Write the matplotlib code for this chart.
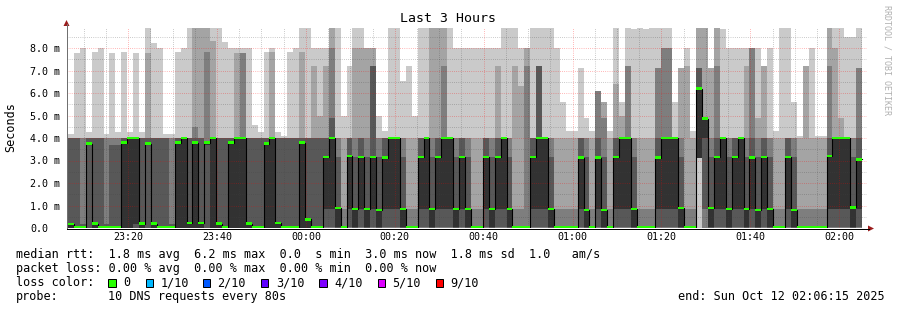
import numpy as np
import matplotlib
matplotlib.use("Agg")
import matplotlib.pyplot as plt
from matplotlib.patches import Rectangle, Polygon

# ten sorted DNS response times per 80 s step, in ms (ping6 is the median)
ping1 = [0, 0, 0, 0, 0, 0, 0, 0, 0, 0,
         0, 0, 0, 0, 0, 0, 0, 0, 0, 0,
         0, 0, 0, 0, 0, 0, 0, 0, 0, 0,
         0, 0, 0, 0, 0, 0, 0, 0, 0, 0,
         0, 0, 0, 0, 0, 0, 0, 0, 0, 0,
         0, 0, 0, 0, 0, 0, 0, 0, 0, 0,
         0, 0, 0, 0, 0, 0, 0, 0, 0, 0,
         0, 0, 0, 0, 0, 0, 0, 0, 0, 0,
         0, 0, 0, 0, 0, 0, 0, 0, 0, 0,
         0, 0, 0, 0, 0, 0, 0, 0, 0, 0,
         0, 0, 0, 0, 0, 0, 0, 0, 0, 0,
         0, 0, 0, 0, 0, 0, 0, 0, 0, 0,
         0, 0, 0, 0, 0, 0, 0, 0, 0, 0,
         0, 0, 0, 0]
ping2 = [0, 0, 0, 0, 0, 0, 0, 0, 0, 0,
         0, 0, 0, 0, 0, 0, 0, 0, 0, 0,
         0, 0, 0, 0, 0, 0, 0, 0, 0, 0,
         0, 0, 0, 0, 0, 0, 0, 0, 0, 0,
         0, 0, 0, 0, 0, 0, 0, 0, 0, 0,
         0, 0, 0, 0, 0, 0, 0, 0, 0, 0,
         0, 0, 0, 0, 0, 0, 0, 0, 0, 0,
         0, 0, 0, 0, 0, 0, 0, 0, 0, 0,
         0, 0, 0, 0, 0, 0, 0, 0, 0, 0,
         0, 0, 0, 0, 0, 0, 0, 0, 0, 0,
         0, 0, 0, 0, 0, 0, 3.1, 0, 0, 0,
         0, 0, 0, 0, 0, 0, 0, 0, 0, 0,
         0, 0, 0, 0, 0, 0, 0, 0, 0, 0,
         0, 0, 0, 0]
ping3 = [0, 0, 0, 0, 0, 0, 0, 0, 0, 0,
         0, 0, 0, 0, 0, 0, 0, 0, 0, 0,
         0, 0, 0, 0, 0, 0, 0, 0, 0, 0,
         0, 0, 0, 0, 0, 0, 0, 0, 0, 0,
         0, 0, 0, 0, 0, 0, 0, 0, 0, 0,
         0, 0, 0, 0, 0, 0, 0, 0, 0, 0,
         0, 0, 0, 0, 0, 0, 0, 0, 0, 0,
         0, 0, 0, 0, 0, 0, 0, 0, 0, 0,
         0, 0, 0, 0, 0, 0, 0, 0, 0, 0,
         0, 0, 0, 0, 0, 0, 0, 0, 0, 0,
         0, 0, 0, 0, 0, 0, 3.1, 0, 0, 0,
         0, 0, 0, 0, 0, 0, 0, 0, 0, 0,
         0, 0, 0, 0, 0, 0, 0, 0, 0, 0,
         0, 0, 0, 0]
ping4 = [0, 0, 0, 0, 0, 0, 0, 0, 0, 0,
         0, 0, 0, 0, 0, 0, 0, 0, 0, 0,
         0, 0, 0, 0, 0, 0, 0, 0, 0, 0,
         0, 0, 0, 0, 0, 0, 0, 0, 0, 0,
         0, 0, 0, .05, .05, 0, 0, .05, 0, .05,
         0, .05, 0, .05, .05, .05, 0, 0, 0, .05,
         .05, 0, .05, .05, .05, 0, .05, 0, 0, 0,
         .05, 0, .05, .05, 0, 0, 0, 0, .05, .05,
         .05, 0, 0, 0, 0, 0, .05, 0, 0, .05,
         0, 0, .05, .05, .05, 0, 0, 0, 0, .05,
         .05, .05, .05, 0, 0, 0, 3.1, .84, 0, .05,
         .05, 0, .05, .05, 0, .05, 0, .05, 0, 0,
         0, .05, 0, 0, 0, 0, 0, 0, .05, .05,
         .05, .05, 0, .05]
ping5 = [0, 0, 0, 3.7, 0, 0, 0, 0, 0, 0,
         0, 0.2, 0, 3.7, 0, 0, 0, 0, 0, 0,
         0, 0, 0, 3.7, 0, 0, 0, 0, 0, 0,
         0, 0, 0, 0, 0, 0, 0, 0, 0, 0,
         0, 0, 0, .84, .84, .05, 0, .84, .05, .84,
         .05, .84, .05, .84, .84, .84, .05, 0, 0, .84,
         .84, .05, .84, .84, .84, .05, .84, .05, 0, 0,
         .84, .05, .84, .84, .05, 0, 0, 0, .84, .84,
         .84, .05, 0, 0, 0, 0, .84, .05, 0, .84,
         .05, 0, .84, .84, .84, .05, 0, 0, 0, .84,
         .84, .84, .84, .05, 0, 0, 3.1, 4.0, .05, .84,
         .84, .05, .84, .84, .05, .84, .05, .84, .05, 0,
         0, .84, .05, 0, 0, 0, 0, 0, .84, .84,
         .84, .84, .05, .84]
ping6 = [0.18, 0.05, 0.05, 3.75, 0.19, 0.05, 0.05, 0.05, 0.05, 3.8,
         4.0, 4.0, 0.19, 3.75, 0.19, 0.05, 0.05, 0.05, 3.8, 4.0,
         0.23, 3.8, 0.23, 3.8, 4.0, 0.19, 0.05, 3.8, 4.0, 4.0,
         0.19, 0.05, 0.05, 3.75, 4.0, 0.23, 0.05, 0.05, 0.05, 3.8,
         0.38, 0.05, 0.05, 3.16, 4.0, 0.9, 0.05, 3.2, 0.84, 3.15,
         0.84, 3.16, 0.8, 3.13, 4.0, 4.0, 0.84, 0.05, 0.05, 3.16,
         4.0, 0.84, 3.16, 4.0, 4.0, 0.84, 3.16, 0.84, 0.05, 0.05,
         3.16, 0.84, 3.16, 4.0, 0.84, 0.05, 0.05, 0.05, 3.16, 4.0,
         4.0, 0.84, 0.05, 0.05, 0.05, 0.05, 3.13, 0.8, 0.05, 3.13,
         0.8, 0.05, 3.16, 4.0, 4.0, 0.84, 0.05, 0.05, 0.05, 3.13,
         4.0, 4.0, 4.0, 0.9, 0.05, 0.05, 6.2, 4.86, 0.9, 3.16,
         4.0, 0.84, 3.16, 4.0, 0.84, 3.13, 0.8, 3.16, 0.84, 0.05,
         0.05, 3.16, 0.8, 0.05, 0.05, 0.05, 0.05, 0.05, 3.2, 4.0,
         4.0, 4.0, 0.92, 3.05]
ping7 = [4.0, 4.0, 0.2, 4.0, 4.0, 4.0, 0.2, 3.7, 3.7, 4.0,
         4.0, 4.0, 4.0, 4.0, 4.0, 4.0, 4.0, 0.2, 4.0, 4.0,
         4.0, 4.0, 4.0, 3.8, 4.0, 4.0, 4.0, 4.0, 4.0, 4.0,
         4.0, 4.0, 4.0, 4.0, 4.0, 4.0, 4.0, 4.0, 4.0, 4.0,
         4.0, 4.0, 4.0, 4.0, 4.9, 3.16, .05, 4.0, 3.16, 4.0,
         3.16, 7.2, 3.16, 4.0, 4.0, 4.0, 3.16, .05, .05, 4.0,
         4.0, 3.16, 4.0, 4.0, 4.0, 3.16, 4.0, 3.16, .05, .05,
         4.0, 3.16, 4.0, 4.0, 3.16, .05, .05, .05, 4.0, 7.2,
         4.0, 3.16, .05, .05, .05, .05, 4.0, 3.16, .05, 4.0,
         3.16, .05, 4.0, 4.0, 4.0, 3.16, .05, .05, .05, 4.0,
         4.0, 4.0, 4.0, 3.16, .05, .05, 7.1, 4.9, 3.16, 4.0,
         4.0, 3.16, 4.0, 4.0, 3.16, 4.0, 3.16, 4.0, 3.16, .05,
         .05, 4.0, 3.16, .05, .05, .05, .05, .05, 4.0, 4.0,
         4.0, 4.0, 3.16, 4.0]
ping8 = [4.0, 4.0, 4.0, 4.0, 4.0, 4.0, 4.0, 4.0, 4.0, 4.0,
         4.0, 4.0, 4.0, 4.0, 4.0, 4.0, 4.0, 4.0, 4.0, 4.0,
         4.0, 4.5, 4.0, 7.84, 4.0, 4.0, 4.0, 4.0, 4.0, 7.8,
         4.0, 4.0, 4.0, 4.0, 4.0, 4.0, 4.0, 4.0, 4.0, 4.0,
         4.0, 4.0, 4.0, 4.0, 8.0, 4.0, .84, 4.0, 4.0, 4.0,
         4.0, 7.2, 4.0, 4.0, 4.0, 4.0, 4.0, .84, .84, 4.0,
         4.0, 4.0, 4.0, 7.2, 4.0, 4.0, 4.0, 4.0, .84, .84,
         4.0, 4.0, 4.0, 4.0, 4.0, .84, .84, 7.2, 4.0, 7.2,
         4.0, 4.0, .84, .84, .84, .84, 4.0, 4.0, .84, 6.1,
         4.9, .84, 4.0, 4.0, 7.2, 4.0, .84, .84, .84, 7.1,
         8.0, 8.0, 4.0, 4.0, .84, .84, 7.1, 4.9, 4.0, 7.2,
         4.0, 4.0, 4.0, 4.0, 4.0, 8.0, 4.0, 4.0, 4.0, .84,
         .84, 4.0, 4.0, .84, .84, .84, .84, .84, 7.2, 4.0,
         4.0, 4.0, 4.0, 7.1]
ping9 = [4.0, 4.0, 4.0, 4.0, 4.0, 4.0, 4.0, 4.0, 4.0, 4.0,
         4.0, 4.0, 4.0, 7.8, 4.0, 4.0, 4.0, 4.0, 4.0, 4.0,
         4.0, 9.5, 9.5, 9.5, 8.3, 4.0, 4.0, 4.0, 7.8, 7.8,
         4.0, 4.0, 4.0, 4.0, 7.84, 4.0, 4.0, 4.0, 4.0, 7.84,
         4.0, 7.2, 5.0, 7.2, 9.5, 4.0, 4.0, 4.0, 8.0, 8.0,
         8.0, 8.0, 4.0, 4.0, 4.0, 4.0, 4.0, 4.0, 4.0, 4.0,
         4.0, 9.5, 9.5, 9.5, 4.0, 4.0, 4.0, 4.0, 4.0, 4.0,
         4.0, 4.0, 7.2, 4.0, 4.0, 7.2, 6.3, 8.0, 4.0, 7.2,
         4.0, 4.0, 4.0, 4.0, 4.0, 4.0, 4.0, 4.0, 4.0, 6.1,
         5.6, 4.0, 6.4, 5.0, 7.2, 4.0, 4.0, 4.0, 4.0, 7.1,
         8.0, 8.0, 4.0, 7.1, 7.2, 4.0, 9.5, 9.5, 7.1, 9.5,
         4.0, 4.0, 4.0, 4.0, 7.2, 8.0, 4.9, 7.2, 4.0, 4.0,
         4.0, 4.0, 4.0, 4.0, 7.2, 4.0, 4.0, 4.0, 9.5, 8.0,
         4.9, 4.0, 4.0, 7.1]
ping10 = [4.2, 7.8, 8.0, 4.27, 7.84, 8.0, 4.2, 7.8, 4.27, 7.84,
          4.27, 7.8, 4.27, 9.5, 8.24, 8.0, 4.2, 4.2, 7.84, 8.0,
          9.5, 9.5, 9.5, 9.5, 9.5, 9.5, 8.27, 8.0, 8.0, 8.0,
          8.0, 4.6, 4.27, 7.84, 8.0, 4.27, 4.1, 7.84, 8.0, 9.5,
          9.5, 8.0, 8.0, 8.0, 9.5, 9.5, 5.0, 7.2, 9.5, 9.5,
          8.0, 8.0, 5.0, 4.3, 9.5, 9.5, 6.55, 7.2, 5.0, 9.5,
          9.5, 9.5, 9.5, 9.5, 9.5, 8.0, 8.0, 8.0, 8.0, 8.0,
          8.0, 8.0, 8.0, 9.5, 9.5, 9.5, 8.0, 8.0, 9.5, 9.5,
          9.5, 9.5, 8.0, 5.6, 4.3, 4.3, 7.1, 4.9, 4.3, 6.1,
          5.6, 4.3, 9.5, 5.6, 9.5, 8.85, 9.5, 8.85, 9.5, 9.5,
          9.5, 9.5, 5.6, 7.1, 8.0, 4.3, 9.5, 9.5, 7.1, 9.5,
          8.85, 8.0, 8.0, 8.0, 8.0, 8.0, 8.0, 7.2, 8.0, 4.3,
          9.5, 9.5, 5.6, 4.1, 7.2, 8.0, 4.1, 4.1, 9.5, 9.5,
          9.5, 8.5, 8.5, 9.5]

tick_times = ['23:20', '23:40', '00:00', '00:20', '00:40',
              '01:00', '01:20', '01:40', '02:00']
y_labels = ['0.0', '1.0 m', '2.0 m', '3.0 m', '4.0 m',
            '5.0 m', '6.0 m', '7.0 m', '8.0 m']
loss_labels = ['0', '1/10', '2/10', '3/10', '4/10', '5/10', '9/10']
loss_colors = ['#26ff00', '#00b8ff', '#0059ff', '#5e00ff',
               '#7e00ff', '#dd00ff', '#ff0000']

smoke_colors = ['#cacaca', '#a4a4a4', '#7e7e7e', '#585858', '#323232']
mono = 'DejaVu Sans Mono'

fig = plt.figure(figsize=(8.97, 3.10), dpi=100)
ax = fig.add_axes([67 / 897, 82 / 310, 800 / 897, 200 / 310])
ax.set_xlim(0, 180)            # minutes since 23:06:15
ax.set_ylim(0, 200 / 22.5)

# step edges, one step = 80 s
t = 0.225 + np.arange(len(ping6) + 1) * 80 / 60


def ext(a):
    a = np.asarray(a, dtype=float)
    return np.append(a, a[-1])


pings = [ping1, ping2, ping3, ping4, ping5, ping6, ping7, ping8, ping9, ping10]
for i in range(5):
    ax.fill_between(t, ext(pings[i]), ext(pings[9 - i]), step='post',
                    color=smoke_colors[i], linewidth=0, antialiased=False,
                    zorder=1 + i * 0.1)

# grid on top of the smoke
dots = (0, (0.72, 1.44))
major_x = [13.75 + 20 * j for j in range(9)]
minor_x = [3.75 + 5 * j for j in range(36) if j % 4 != 2]
for xv in minor_x:
    ax.axvline(xv, color='#424242', alpha=0.36, lw=0.72, ls=dots, zorder=3)
for yv in np.arange(0.5, 8.9, 1.0):
    ax.axhline(yv, color='#424242', alpha=0.36, lw=0.72, ls=dots, zorder=3)
for xv in major_x:
    ax.axvline(xv, color='#ff0000', alpha=0.37, lw=0.72, ls=dots, zorder=3)
for yv in range(1, 9):
    ax.axhline(yv, color='#ff0000', alpha=0.37, lw=0.72, ls=dots, zorder=3)

# median line with loss colour
med = ext(ping6)
ax.step(t, med, where='post', color='#000000', lw=0.8, zorder=4)
ax.fill_between(t, med - 0.055, med + 0.055, step='post', color=loss_colors[0],
                linewidth=0, antialiased=False, zorder=5)

for s in ax.spines.values():
    s.set_visible(False)
ax.set_xticks(major_x)
ax.set_xticklabels(tick_times, fontsize=7.2, family=mono)
ax.set_yticks(range(9))
ax.set_yticklabels(y_labels, fontsize=7.2, family=mono)
for lab in ax.get_yticklabels():
    lab.set_horizontalalignment('left')
ax.tick_params(axis='y', length=0, pad=37 * 0.72)
ax.tick_params(axis='x', length=0, pad=3)

# overlay in pixel coordinates for frame, title and legend
ov = fig.add_axes([0, 0, 1, 1], facecolor='none')
ov.set_xlim(0, 897)
ov.set_ylim(310, 0)
ov.axis('off')
ov.plot([66.5, 66.5], [228.5, 24], color='#707070', lw=0.72)
ov.plot([66.5, 869], [228.5, 228.5], color='#000000', lw=0.72)
ov.add_patch(Polygon([(63.5, 26), (69.5, 26), (66.5, 20)], closed=True,
                     color='#9b1c1c', lw=0))
ov.add_patch(Polygon([(868, 225.5), (868, 231.5), (874, 228.5)], closed=True,
                     color='#9b1c1c', lw=0))

ov.text(448.5, 19, 'Last 3 Hours', ha='center', va='center',
        fontsize=9.5, family=mono)
ov.text(11, 127, 'Seconds', ha='center', va='center', rotation=90,
        fontsize=8.5, family=mono)
ov.text(886.5, 5, 'RRDTOOL / TOBI OETIKER', ha='center', va='top',
        rotation=270, fontsize=6, family=mono, color='#b0b0b0')

ov.text(16, 254.5, 'median rtt:  1.8 ms avg  6.2 ms max  0.0  s min  '
        '3.0 ms now  1.8 ms sd  1.0   am/s', va='center', fontsize=8.5,
        family=mono)
ov.text(16, 268.5, 'packet loss: 0.00 % avg  0.00 % max  0.00 % min  '
        '0.00 % now', va='center', fontsize=8.5, family=mono)
ov.text(16, 282.5, 'loss color:', va='center', fontsize=8.5, family=mono)
box_x = [108.3, 145.7, 202.7, 261.0, 319.3, 377.7, 436.0]
for bx, lab, col in zip(box_x, loss_labels, loss_colors):
    ov.add_patch(Rectangle((bx, 279.2), 7.3, 7.3, facecolor=col,
                           edgecolor='#000000', lw=0.72))
    ov.text(bx + 14.7, 282.5, lab, va='center', fontsize=8.5, family=mono)
ov.text(16, 296.5, 'probe:', va='center', fontsize=8.5, family=mono)
ov.text(107.5, 296.5, '10 DNS requests every 80s', va='center',
        fontsize=8.5, family=mono)
ov.text(678, 296.5, 'end: Sun Oct 12 02:06:15 2025', va='center',
        fontsize=8.5, family=mono)

fig.savefig('out.png', dpi=100)
